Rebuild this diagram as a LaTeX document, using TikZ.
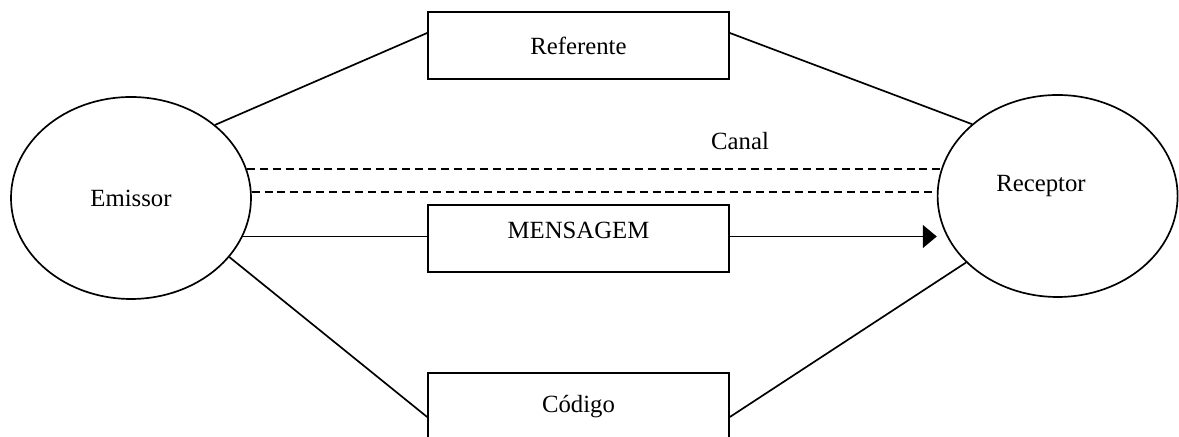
\documentclass[tikz,border=0pt]{standalone}
\usepackage{fontspec}
\setmainfont{Liberation Serif}
\usetikzlibrary{shapes.geometric, arrows.meta}

\begin{document}
\begin{tikzpicture}[line width=1.2pt, >={Triangle[length=0.35cm, width=0.575cm]},
    font=\fontsize{17.6}{21}\selectfont,
    polo/.style={draw, ellipse, minimum width=6cm, minimum height=5.05cm, inner sep=0pt},
    caixa/.style={draw, rectangle, minimum width=7.525cm, minimum height=1.675cm, inner sep=0pt},
    canal/.style={dash pattern=on 5.7pt off 3.5pt}]
    \clip (0,0) rectangle (29.475,10.925);

    % emissor e receptor
    \node[polo] (emissor) at (3.275,5.975) {Emissor};
    \node[polo] (receptor) at (26.44,6.025) {};
    \node (receptortxt) at (26.025,6.275) {Receptor};

    % caixas
    \node[caixa] (referente) at (14.4625,9.7875) {Referente};
    \node[caixa, text depth=0.4cm] (mensagem) at (14.4625,4.9625) {MENSAGEM};
    \node[caixa] (codigo) at (14.4625,0.7625) {Código};
    \node (canaltxt) at (18.5,7.4) {Canal};

    \draw (emissor.41) -- ([yshift=0.3125cm]referente.west);
    \draw ([yshift=0.3125cm]referente.east) -- (receptor.140);
    \draw (emissor.-31) -- ([yshift=-0.2625cm]codigo.west);
    \draw ([yshift=-0.2625cm]codigo.east) -- (receptor.216);

    % canal
    \draw[canal] (emissor.14) -- (emissor.14 -| receptor.167);
    \draw[canal] (emissor.3) -- (emissor.3 -| receptor.178);

    % mensagem
    \draw (emissor.-19) -- (emissor.-19 -| mensagem.west);
    \draw[->] (mensagem.east |- emissor.-19) -- (emissor.-19 -| receptor.west);
\end{tikzpicture}
\end{document}
